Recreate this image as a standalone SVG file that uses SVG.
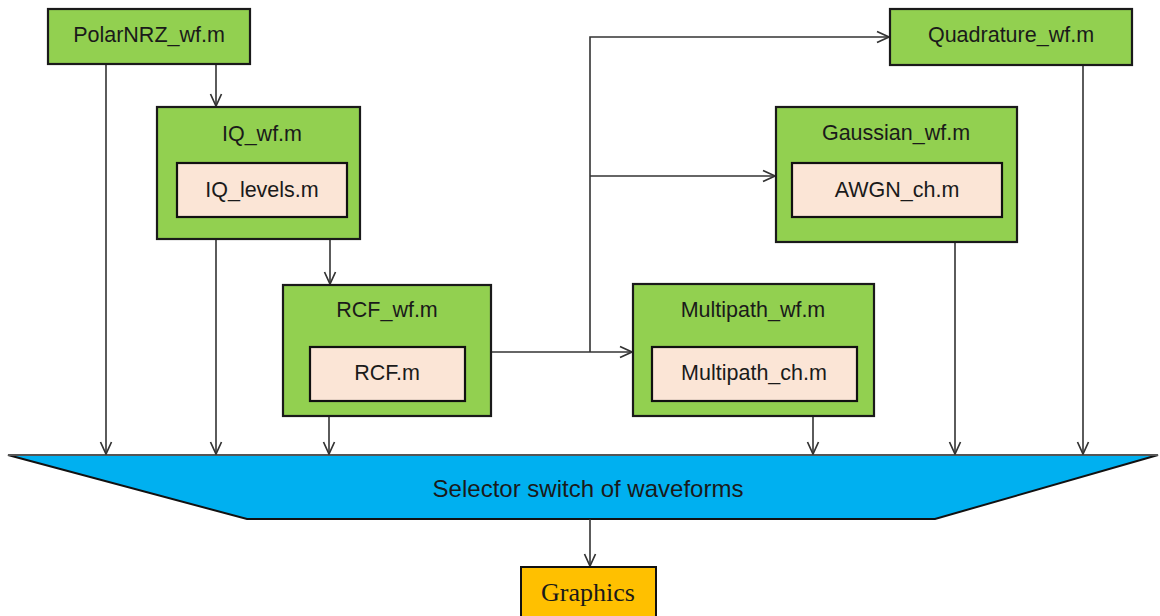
<svg xmlns="http://www.w3.org/2000/svg" width="1160" height="616" viewBox="0 0 1160 616">
  <style>
    .outer { fill: #92D050; stroke: #1a1a1a; stroke-width: 2.2; }
    .inner { fill: #FBE5D6; stroke: #111; stroke-width: 2.2; }
    .lbl { font-family: "Liberation Sans", Arial, sans-serif; font-size: 21.5px; fill: #1a1a1a; text-anchor: middle; }
    .big { font-size: 24px; }
    .wire { fill: none; stroke: #333; stroke-width: 1.6; }
    .arr { marker-end: url(#head); }
  </style>
  <defs>
    <marker id="head" viewBox="0 0 14 14" refX="13" refY="7" markerWidth="14" markerHeight="14" markerUnits="userSpaceOnUse" orient="auto">
      <path d="M1,1.5 L13,7 L1,12.5" fill="none" stroke="#333" stroke-width="1.7"/>
    </marker>
  </defs>

  <rect width="1160" height="616" fill="#ffffff"/>

  <!-- selector switch -->
  <g id="selector">
    <polygon points="8,455 1158,455 935,519 247,519" fill="#00B0F0" stroke="#111" stroke-width="2"/>
    <line x1="8" y1="455" x2="1158" y2="455" stroke="#555" stroke-width="2"/>
    <text x="588" y="497" class="lbl big">Selector switch of waveforms</text>
  </g>

  <g id="connectors">
    <path class="wire arr" d="M106,64 V454"/>
    <path class="wire arr" d="M216,64 V106"/>
    <path class="wire arr" d="M216,239 V454"/>
    <path class="wire arr" d="M330,239 V284"/>
    <path class="wire arr" d="M329,416 V454"/>
    <path class="wire arr" d="M491,352 H632"/>
    <path class="wire arr" d="M590,352 V37 H889"/>
    <path class="wire arr" d="M590,176 H775"/>
    <path class="wire arr" d="M813,416 V454"/>
    <path class="wire arr" d="M955,242 V454"/>
    <path class="wire arr" d="M1083,65 V454"/>
    <path class="wire arr" d="M590,519 V566"/>
  </g>

  <g id="polarnrz">
    <rect class="outer" x="48" y="9" width="202" height="55"/>
    <text class="lbl" x="149" y="42">PolarNRZ_wf.m</text>
  </g>

  <g id="iq">
    <rect class="outer" x="157" y="107" width="203" height="132"/>
    <text class="lbl" x="262" y="141">IQ_wf.m</text>
    <rect class="inner" x="177" y="163" width="170" height="54"/>
    <text class="lbl" x="262" y="197">IQ_levels.m</text>
  </g>

  <g id="rcf">
    <rect class="outer" x="283" y="285" width="208" height="131"/>
    <text class="lbl" x="387" y="317">RCF_wf.m</text>
    <rect class="inner" x="310" y="347" width="155" height="54"/>
    <text class="lbl" x="387" y="380">RCF.m</text>
  </g>

  <g id="multipath">
    <rect class="outer" x="633" y="284" width="241" height="132"/>
    <text class="lbl" x="753" y="317">Multipath_wf.m</text>
    <rect class="inner" x="652" y="347" width="205" height="54"/>
    <text class="lbl" x="754" y="380">Multipath_ch.m</text>
  </g>

  <g id="gaussian">
    <rect class="outer" x="776" y="107" width="241" height="135"/>
    <text class="lbl" x="896" y="140">Gaussian_wf.m</text>
    <rect class="inner" x="792" y="163" width="210" height="54"/>
    <text class="lbl" x="897" y="197">AWGN_ch.m</text>
  </g>

  <g id="quadrature">
    <rect class="outer" x="890" y="9" width="242" height="56"/>
    <text class="lbl" x="1011" y="42">Quadrature_wf.m</text>
  </g>

  <g id="graphics">
    <rect x="521" y="567" width="135" height="56" fill="#FFC000" stroke="#111" stroke-width="2"/>
    <text x="588" y="601" font-family="Liberation Serif, 'Times New Roman', serif" font-size="26" fill="#1a1a1a" text-anchor="middle">Graphics</text>
  </g>
</svg>
